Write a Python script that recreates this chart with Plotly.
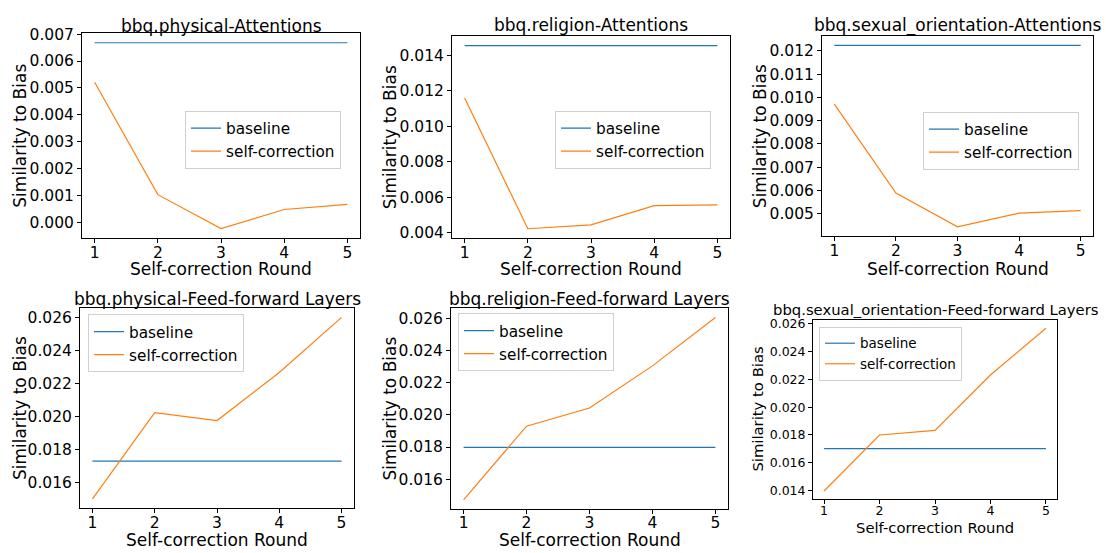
import plotly.graph_objects as go

rounds = [1, 2, 3, 4, 5]

titles = [
    "bbq.physical-Attentions",
    "bbq.religion-Attentions",
    "bbq.sexual_orientation-Attentions",
    "bbq.physical-Feed-forward Layers",
    "bbq.religion-Feed-forward Layers",
    "bbq.sexual_orientation-Feed-forward Layers",
]

baseline_values = [0.00668, 0.01455, 0.01223, 0.01730, 0.01798, 0.01702]

self_correction = [
    [0.00521, 0.00104, -0.00022, 0.00049, 0.00068],
    [0.01159, 0.00422, 0.00444, 0.00552, 0.00557],
    [0.00971, 0.00589, 0.00444, 0.00503, 0.00514],
    [0.01501, 0.02023, 0.01975, 0.02266, 0.02600],
    [0.01471, 0.01930, 0.02043, 0.02306, 0.02608],
    [0.01398, 0.01800, 0.01833, 0.02231, 0.02567],
]

tick_steps = [0.001, 0.002, 0.001, 0.002, 0.002, 0.002]

W, H = 1106, 553

# pixel boxes (left, right, top, bottom)
boxes = [
    (82, 360, 26, 235),
    (452, 730, 29, 235),
    (822, 1093, 29, 233),
    (80, 354, 307, 511),
    (451, 728, 307, 512),
    (813, 1057, 319, 502),
]
legend_pos = [(185, 105), (555, 105), (923, 106), (88, 313), (458, 312), (819, 326)]
title_y = [18, 17, 18, 297, 297, 308]
xlab_y = [267, 267, 267, 544, 544, 531]
ylab_x = [20, 390, 760, 20, 390, 758]
big = [True, True, True, True, True, False]

BLUE = "#1f77b4"
ORANGE = "#ff7f0e"
FONT = "DejaVu Sans"

fig = go.Figure()
annotations = []
layout = {}

for i in range(6):
    l, r, t, b = boxes[i]
    xa = "x" if i == 0 else f"x{i+1}"
    ya = "y" if i == 0 else f"y{i+1}"
    xkey = "xaxis" if i == 0 else f"xaxis{i+1}"
    ykey = "yaxis" if i == 0 else f"yaxis{i+1}"
    lg = "legend" if i == 0 else f"legend{i+1}"
    tick_fs = 15.5 if big[i] else 12.5
    lab_fs = 17 if big[i] else 14.8
    leg_fs = 15.3 if big[i] else 13.5

    fig.add_trace(go.Scatter(x=rounds, y=[baseline_values[i]] * len(rounds), mode="lines",
                             line=dict(color=BLUE, width=1.2), name="baseline",
                             xaxis=xa, yaxis=ya, legend=lg))
    fig.add_trace(go.Scatter(x=rounds, y=self_correction[i], mode="lines",
                             line=dict(color=ORANGE, width=1.2), name="self-correction",
                             xaxis=xa, yaxis=ya, legend=lg))

    vals = self_correction[i] + [baseline_values[i]]
    lo, hi = min(vals), max(vals)
    pad = (hi - lo) * 0.05
    base = dict(showline=True, mirror=True, linecolor="black", linewidth=1,
                showgrid=False, zeroline=False,
                tickfont=dict(family=FONT, size=tick_fs, color="black"))
    # x: tick marks drawn as minor ticks so labels sit close to the axis
    layout[xkey] = dict(domain=[l / W, r / W], anchor=ya, range=[0.8, 5.2],
                        tickvals=rounds, ticks="",
                        minor=dict(tickvals=rounds, ticks="outside", ticklen=4,
                                   tickcolor="black", showgrid=False),
                        **base)
    layout[ykey] = dict(domain=[1 - b / H, 1 - t / H], anchor=xa, range=[lo - pad, hi + pad],
                        dtick=tick_steps[i], tick0=0, tickformat=".3f",
                        ticks="outside", ticklen=4, tickcolor="black", **base)
    lx, ly = legend_pos[i]
    layout[lg] = dict(x=lx / W, y=1 - ly / H, xanchor="left", yanchor="top",
                      bgcolor="rgba(255,255,255,0.8)", bordercolor="#d0d0d0", borderwidth=1,
                      font=dict(family=FONT, size=leg_fs, color="black"),
                      tracegroupgap=0, itemwidth=30)

    cx = (l + r) / 2 / W
    annotations.append(dict(text=titles[i], x=cx, y=1 - title_y[i] / H, xref="paper", yref="paper",
                            xanchor="center", yanchor="middle", showarrow=False,
                            font=dict(family=FONT, size=lab_fs, color="black")))
    annotations.append(dict(text="Self-correction Round", x=cx, y=1 - xlab_y[i] / H,
                            xref="paper", yref="paper", xanchor="center", yanchor="middle",
                            showarrow=False, font=dict(family=FONT, size=lab_fs, color="black")))
    annotations.append(dict(text="Similarity to Bias", x=ylab_x[i] / W, y=1 - (t + b) / 2 / H,
                            xref="paper", yref="paper", xanchor="center", yanchor="middle",
                            textangle=-90, showarrow=False,
                            font=dict(family=FONT, size=lab_fs, color="black")))

fig.update_layout(width=W, height=H, margin=dict(l=0, r=0, t=0, b=0),
                  paper_bgcolor="white", plot_bgcolor="white",
                  annotations=annotations, **layout)

fig.write_html("out.html")
